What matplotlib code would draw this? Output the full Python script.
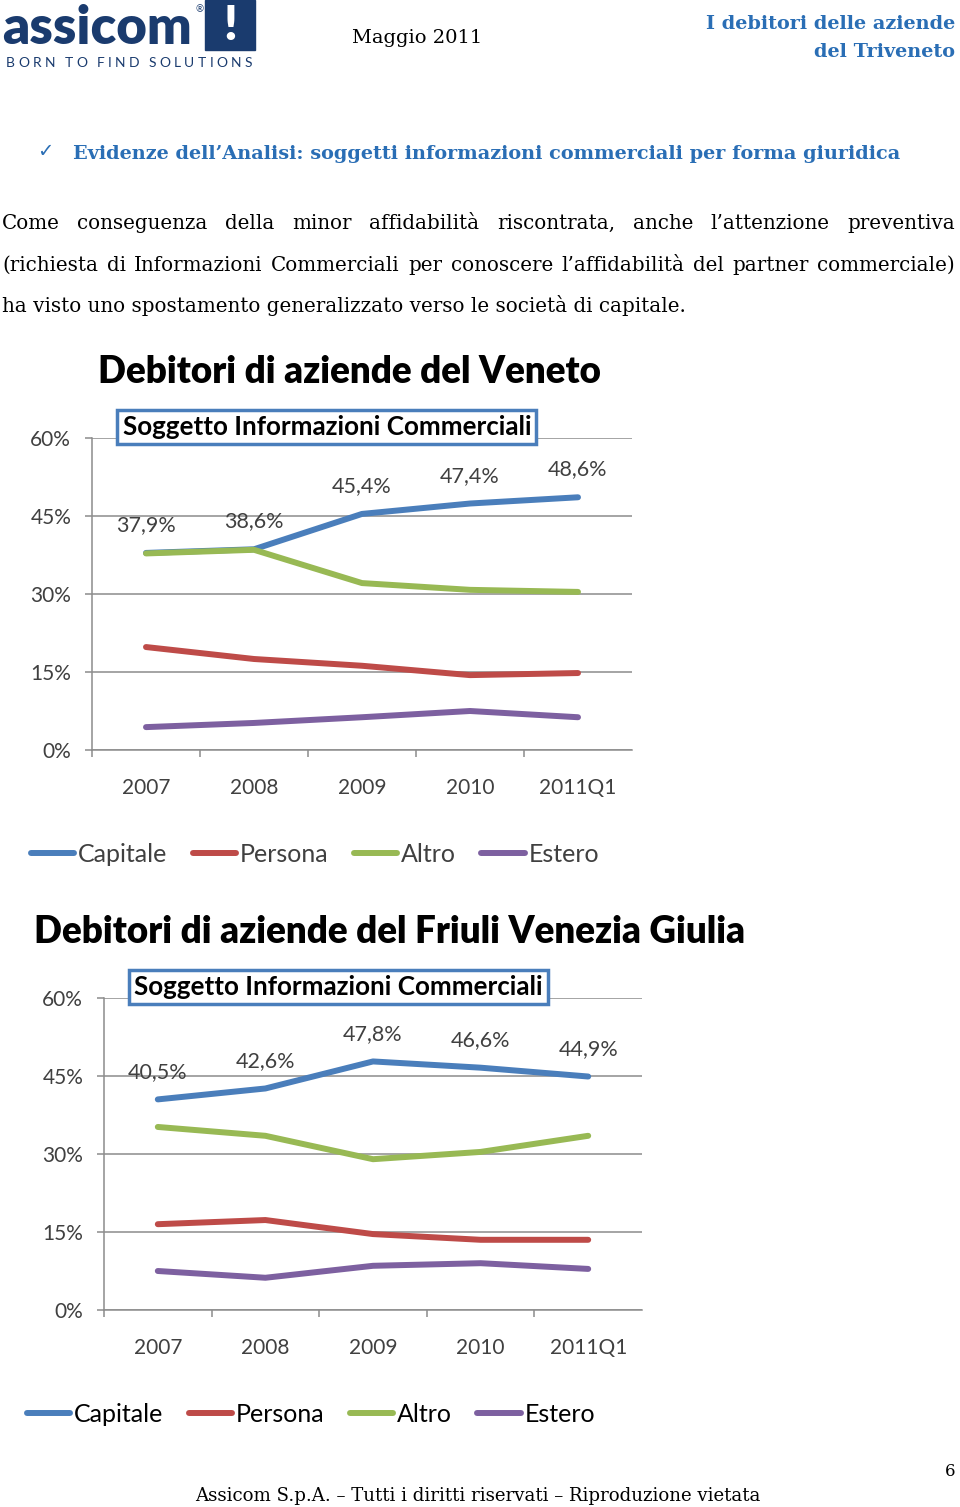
import matplotlib
matplotlib.use('Agg')
import matplotlib.pyplot as plt
from matplotlib.patches import Rectangle

W, H = 960, 1507

# --- data ---------------------------------------------------------------
years = ['2007', '2008', '2009', '2010', '2011Q1']
series = ['Capitale', 'Persona', 'Altro', 'Estero']
colors = ['#4A7EBB', '#BE4B48', '#98B954', '#7D60A0']

veneto_capitale = [37.9, 38.6, 45.4, 47.4, 48.6]
veneto_persona = [19.8, 17.5, 16.2, 14.4, 14.8]
veneto_altro = [37.8, 38.5, 32.1, 30.8, 30.4]
veneto_estero = [4.4, 5.2, 6.3, 7.5, 6.3]

fvg_capitale = [40.5, 42.6, 47.8, 46.6, 44.9]
fvg_persona = [16.5, 17.3, 14.6, 13.5, 13.5]
fvg_altro = [35.2, 33.5, 29.0, 30.4, 33.5]
fvg_estero = [7.5, 6.2, 8.5, 9.0, 7.9]

yticks = [0, 15, 30, 45, 60]
ytick_labels = ['0%', '15%', '30%', '45%', '60%']

paragraph = [
    "Come conseguenza della minor affidabilità riscontrata, anche l’attenzione preventiva",
    "(richiesta di Informazioni Commerciali per conoscere l’affidabilità del partner commerciale)",
    "ha visto uno spostamento generalizzato verso le società di capitale.",
]

NAVY = '#1A3B6E'
BLUE = '#2A6EB5'
GRID = '#8C8C8C'
SERIF = ['DejaVu Serif']

plt.rcParams['font.family'] = ['Lato', 'DejaVu Sans']
fig = plt.figure(figsize=(W / 100, H / 100), dpi=100)


def ftext(x, y, s, **kw):
    # place text using pixel coords measured from the top-left corner
    return fig.text(x / W, 1 - y / H, s, **kw)


def spread(pieces, y, x0, x1, space=0, **kw):
    # lay pieces out between x0 and x1 with equal gaps (justified text / letter tracking)
    r = fig.canvas.get_renderer()
    items = [ftext(0, y, p, va='baseline', **kw) if p != ' ' else None for p in pieces]
    widths = [t.get_window_extent(r).width if t else space for t in items]
    gap = (x1 - x0 - sum(widths)) / (len(items) - 1)
    pos = x0
    for t, w in zip(items, widths):
        if t:
            t.set_x(pos / W)
        pos += w + gap


# --- page header ----------------------------------------------------------
ftext(2, 44, 'assicom', fontsize=38, fontweight='heavy', color=NAVY, va='baseline')
ftext(195, 12, '®', fontsize=7, color=NAVY, va='baseline')
fig.patches.append(Rectangle((205 / W, 1 - 50 / H), 50 / W, 50 / H,
                             transform=fig.transFigure, color=NAVY))
ftext(230, 26, '!', fontsize=34, fontweight='heavy', color='white', ha='center', va='center')
spread(list('BORN TO FIND SOLUTIONS'), 67, 6, 252, space=3, fontsize=10, color=NAVY)

ftext(352, 43, 'Maggio 2011', fontsize=14, family=SERIF, va='baseline')
ftext(955, 29, 'I debitori delle aziende', fontsize=13.9, fontweight='bold',
      family=SERIF, color=BLUE, ha='right', va='baseline')
ftext(955, 57, 'del Triveneto', fontsize=13.9, fontweight='bold',
      family=SERIF, color=BLUE, ha='right', va='baseline')

ftext(37, 157, '✓', fontsize=14, color=BLUE, va='baseline', family=['DejaVu Sans'])
ftext(73, 159, 'Evidenze dell’Analisi: soggetti informazioni commerciali per forma giuridica',
      fontsize=13.9, fontweight='bold', family=SERIF, color=BLUE, va='baseline')

spread(paragraph[0].split(), 229, 2, 955, fontsize=14.3, family=SERIF)
spread(paragraph[1].split(), 271, 2, 955, fontsize=14.3, family=SERIF)
ftext(2, 312, paragraph[2], fontsize=14.3, family=SERIF, va='baseline')

ftext(955, 1476, '6', fontsize=12, family=SERIF, ha='right', va='baseline')
ftext(478, 1501, 'Assicom S.p.A. – Tutti i diritti riservati – Riproduzione vietata',
      fontsize=13.1, family=SERIF, ha='center', va='baseline')


# --- charts -----------------------------------------------------------------
def draw_chart(left, right, top, values, title, title_x, legend_x, legend_color):
    ax = fig.add_axes([left / W, 1 - (top + 312) / H, (right - left) / W, 312 / H])
    x = list(range(len(years)))
    for vals, name, c in zip(values, series, colors):
        ax.plot(x, vals, color=c, lw=4.3, solid_capstyle='round',
                solid_joinstyle='round', label=name)
    for i, v in enumerate(values[0]):
        ax.annotate(f'{v:.1f}%'.replace('.', ','), (i, v), xytext=(0, 20),
                    textcoords='offset points', ha='center', va='center',
                    fontsize=15.5, color='#404040')

    ax.set_xlim(-0.5, len(years) - 0.5)
    ax.set_ylim(0, 60)
    ax.set_yticks(yticks, ytick_labels)
    ax.set_xticks(x, years)
    ax.set_xticks([i - 0.5 for i in x], minor=True)
    ax.tick_params(axis='x', which='major', length=0, pad=20, labelsize=15, labelcolor='#404040')
    ax.tick_params(axis='x', which='minor', length=5, width=1.1, color=GRID)
    ax.tick_params(axis='y', length=5, width=1.1, color=GRID, pad=10,
                   labelsize=15, labelcolor='#404040')
    ax.grid(axis='y', color=GRID, lw=1.1)
    ax.set_axisbelow(True)
    for s in ['top', 'right']:
        ax.spines[s].set_visible(False)
    for s in ['left', 'bottom']:
        ax.spines[s].set_color(GRID)
        ax.spines[s].set_linewidth(1.1)

    ax.text(0.435, 1.035, 'Soggetto Informazioni Commerciali', transform=ax.transAxes,
            ha='center', va='center', fontsize=18.7, fontweight='bold',
            bbox=dict(boxstyle='square,pad=0.2', fc='white', ec='#4A7EBB', lw=2.5))
    ftext(title_x, top - 55, title, fontsize=26.5, fontweight='heavy', ha='center', va='baseline')

    leg = ax.legend(loc='center', bbox_to_anchor=((legend_x - left) / (right - left), -0.335),
                    ncol=4, frameon=False, fontsize=18, handlelength=1.75,
                    handletextpad=0.15, columnspacing=1.0)
    for t in leg.get_texts():
        t.set_color(legend_color)
    return ax


draw_chart(92, 632, 438,
           [veneto_capitale, veneto_persona, veneto_altro, veneto_estero],
           'Debitori di aziende del Veneto', 350, 315, '#404040')
draw_chart(104, 642, 998,
           [fvg_capitale, fvg_persona, fvg_altro, fvg_estero],
           'Debitori di aziende del Friuli Venezia Giulia', 390, 311, 'black')

fig.savefig('out.png', dpi=100)
